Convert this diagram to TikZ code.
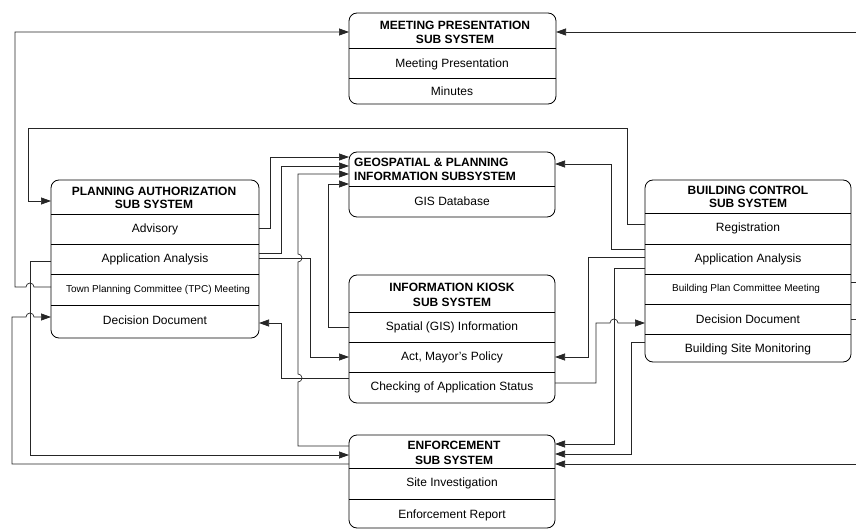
\documentclass[tikz,border=0pt]{standalone}
\usepackage{fontspec}
\setmainfont{Liberation Sans}
\usetikzlibrary{arrows.meta}
\begin{document}
\begin{tikzpicture}[x=1pt,y=-1pt,
  box/.style={draw, rounded corners=8pt, line width=0.8pt, inner sep=0pt, outer sep=0pt, anchor=north west},
  ttl/.style={font=\fontsize{12}{14}\selectfont\bfseries, align=center, inner sep=0pt},
  txt/.style={font=\fontsize{12}{14}\selectfont, inner sep=0pt},
  small/.style={font=\fontsize{10}{12}\selectfont, inner sep=0pt},
  sep/.style={line width=0.8pt},
  conn/.style={line width=0.7pt, draw=black!85},
  arr/.style={conn, -{Triangle[length=10pt,width=7pt]}},
]
\useasboundingbox (0,0) rectangle (856,529);

% ---------- boxes ----------
% Meeting presentation
\node[box, minimum width=207pt, minimum height=91pt] (mp) at (349,13) {};
\draw[sep] (mp.west |- 0,48) -- (mp.east |- 0,48);
\draw[sep] (mp.west |- 0,78) -- (mp.east |- 0,78);
\node[ttl] (mpt) at (455,32) {MEETING PRESENTATION\\SUB SYSTEM};
\node[txt] (mp1) at (452,64) {Meeting Presentation};
\node[txt] (mp2) at (452,91) {Minutes};

% Geospatial
\node[box, minimum width=206pt, minimum height=65pt] (gis) at (349,152) {};
\draw[sep] (gis.west |- 0,186) -- (gis.east |- 0,186);
\node[ttl, align=left, anchor=west] (gist) at (354,169) {GEOSPATIAL \& PLANNING\\INFORMATION SUBSYSTEM};
\node[txt] (gis1) at (452,201) {GIS Database};

% Planning authorization
\node[box, minimum width=208pt, minimum height=158pt] (pa) at (51,180) {};
\draw[sep] (pa.west |- 0,214) -- (pa.east |- 0,214);
\draw[sep] (pa.west |- 0,244) -- (pa.east |- 0,244);
\draw[sep] (pa.west |- 0,274) -- (pa.east |- 0,274);
\draw[sep] (pa.west |- 0,305) -- (pa.east |- 0,305);
\node[ttl, font=\fontsize{12}{13}\selectfont\bfseries] (pat) at (154,198) {PLANNING AUTHORIZATION\\SUB SYSTEM};
\node[txt] (pa1) at (155,229) {Advisory};
\node[txt] (pa2) at (155,259) {Application Analysis};
\node[small] (pa3) at (158,290) {Town Planning Committee (TPC) Meeting};
\node[txt] (pa4) at (155,320) {Decision Document};

% Information kiosk
\node[box, minimum width=206pt, minimum height=128pt] (ik) at (349,275) {};
\draw[sep] (ik.west |- 0,312) -- (ik.east |- 0,312);
\draw[sep] (ik.west |- 0,342) -- (ik.east |- 0,342);
\draw[sep] (ik.west |- 0,372) -- (ik.east |- 0,372);
\node[ttl, font=\fontsize{12}{15}\selectfont\bfseries] (ikt) at (452,295) {INFORMATION KIOSK\\SUB SYSTEM};
\node[txt] (ik1) at (452,327) {Spatial (GIS) Information};
\node[txt] (ik2) at (452,357) {Act, Mayor's Policy};
\node[txt] (ik3) at (452,387) {Checking of Application Status};

% Building control
\node[box, minimum width=206pt, minimum height=182pt] (bc) at (645,180) {};
\draw[sep] (bc.west |- 0,213) -- (bc.east |- 0,213);
\draw[sep] (bc.west |- 0,244) -- (bc.east |- 0,244);
\draw[sep] (bc.west |- 0,274) -- (bc.east |- 0,274);
\draw[sep] (bc.west |- 0,304) -- (bc.east |- 0,304);
\draw[sep] (bc.west |- 0,334) -- (bc.east |- 0,334);
\node[ttl, font=\fontsize{12}{13}\selectfont\bfseries] (bct) at (748,197) {BUILDING CONTROL\\SUB SYSTEM};
\node[txt] (bc1) at (748,228) {Registration};
\node[txt] (bc2) at (748,259) {Application Analysis};
\node[small] (bc3) at (746,289) {Building Plan Committee Meeting};
\node[txt] (bc4) at (748,319) {Decision Document};
\node[txt] (bc5) at (748,349) {Building Site Monitoring};

% Enforcement
\node[box, minimum width=206pt, minimum height=93pt] (en) at (349,435) {};
\draw[sep] (en.west |- 0,468) -- (en.east |- 0,468);
\draw[sep] (en.west |- 0,499) -- (en.east |- 0,499);
\node[ttl, font=\fontsize{12}{15}\selectfont\bfseries] (ent) at (454,453) {ENFORCEMENT\\SUB SYSTEM};
\node[txt] (en1) at (452,483) {Site Investigation};
\node[txt] (en2) at (452,515) {Enforcement Report};

% free ends at right picture edge
\coordinate (rA) at (856,32);
\coordinate (rB) at (856,282);
\coordinate (rC) at (856,319);
\coordinate (rD) at (856,464);

% ---------- connectors ----------
\draw[arr] (pa.west |- 0,287) -- (34,287) arc[start angle=0,end angle=180,radius=4pt] -- (15,287) -- (15,32) -- (mp.west |- 0,32);
\draw[arr] (rA) -- (mp.east |- rA);
\draw[arr] (bc.west |- 0,224) -- (627,224) -- (627,128) -- (28,128) -- (28,201) -- (pa.west |- 0,201);
\draw[arr] (pa.east |- 0,228) -| (270,157) -- (gis.west |- 0,157);
\draw[arr] (pa.east |- 0,253) -| (281,166) -- (gis.west |- 0,166);
\draw[arr] (pa.east |- 0,258) -| (310,357) -- (ik.west |- 0,357);
\draw[arr] (en.west |- 0,446) -- (298,446) -- (298,382) arc[start angle=-90,end angle=90,radius=4pt] -- (298,262) arc[start angle=-90,end angle=90,radius=4pt] -- (298,174) -- (gis.west |- 0,174);
\draw[arr] (ik.west |- 0,327) -| (328,184) -- (gis.west |- 0,184);
\draw[arr] (ik.west |- 0,378) -| (281,323) -- (pa.east |- 0,323);
\draw[arr] (bc.west |- 0,249) -| (611,164) -- (gis.east |- 0,164);
\draw[arr] (bc.west |- 0,257) -| (588,357) -- (ik.east |- 0,357);
\draw[arr] (bc.west |- 0,268) -| (614,444) -- (en.east |- 0,444);
\draw[arr] (ik.east |- 0,383) -| (596,323) -- (610,323) arc[start angle=180,end angle=0,radius=4pt] -- (bc.west |- 0,323);
\draw[arr] (bc.west |- 0,342) -| (631,454) -- (en.east |- 0,454);
\draw[arr] (rD) -- (en.east |- rD);
\draw[conn] (bc.east |- rB) -- (rB);
\draw[conn] (bc.east |- rC) -- (rC);
\draw[arr] (pa.west |- 0,261) -| (30,455) -- (en.west |- 0,455);
\draw[arr] (en.west |- 0,464) -| (12,317) -- (26,317) arc[start angle=180,end angle=0,radius=4pt] -- (pa.west |- 0,317);
\end{tikzpicture}
\end{document}
